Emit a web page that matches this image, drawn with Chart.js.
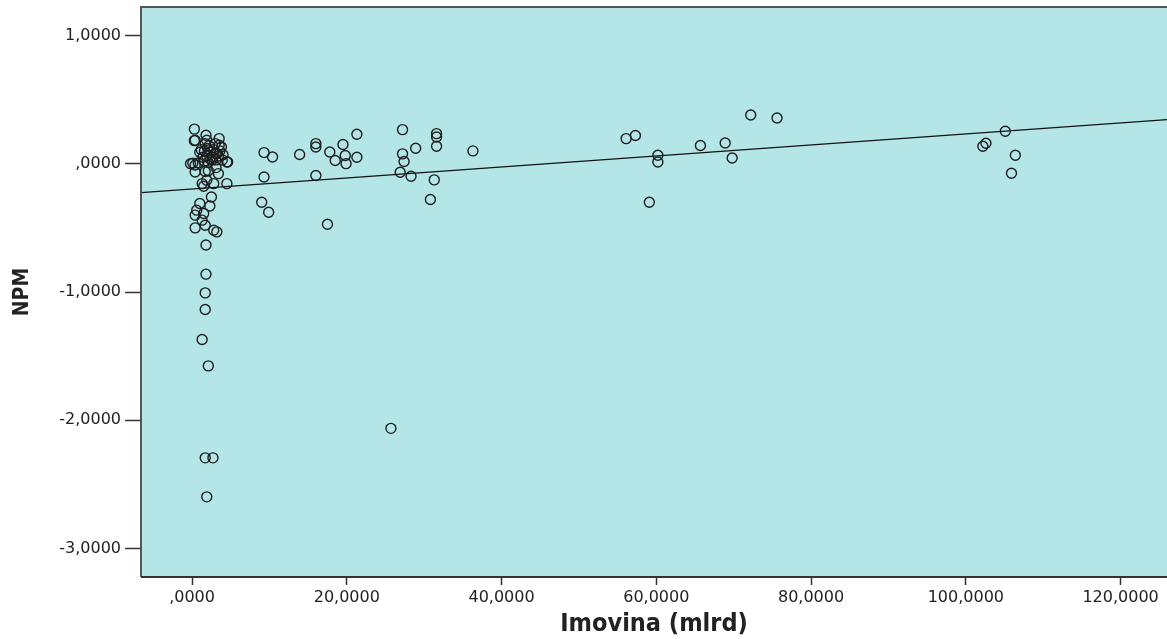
<!DOCTYPE html>
<html>
<head>
<meta charset="utf-8">
<script src="https://cdn.jsdelivr.net/npm/chart.js@4"></script>
<style>
  html, body { margin: 0; padding: 0; background: #fff; }
  canvas { display: block; }
</style>
</head>
<body>
<canvas id="chart" width="1167" height="639"></canvas>
<script>
// Imovina (mlrd) vs NPM
const imovina = [
  // dense cluster near zero
  0.3, 0.3, 1.8, 3.5, 3.5, 1.7, 0.4, 1.9, 3.0, 3.8,
  -0.2, 0.1, 0.4, 0.8, 4.5, 4.6, 1.2, 1.6, 2.0, 2.4, 2.8, 3.2, 3.6, 4.0,
  1.4, 1.9, 2.3, 2.7, 3.1, 3.4, 1.6, 2.1, 2.6, 3.0, 3.9, 1.0, 2.2,
  0.4, 2.1, 3.4, 1.9, 1.3, 2.8, 4.5, 1.5, 2.5, 1.0, 2.3, 0.6, 0.4, 1.5,
  1.3, 0.4, 1.7, 2.8, 3.2, 1.7, 3.1,
  // long tail
  1.8, 1.8, 1.7, 1.7, 1.3, 2.1, 1.7, 2.7, 1.9,
  // 9 - 37
  9.3, 10.4, 9.3, 9.0, 9.9, 13.9, 16.0, 16.0, 16.0, 17.5, 19.5, 17.8, 18.5,
  19.8, 19.9, 21.3, 21.3, 27.2, 27.2, 27.4, 28.9, 26.9, 28.3, 31.6, 31.6,
  31.6, 31.3, 30.8, 36.3, 25.7,
  // 56 - 76
  56.1, 57.3, 60.2, 60.2, 59.1, 65.7, 68.9, 69.8, 72.2, 75.6,
  // ~ 100+
  105.1, 102.2, 102.6, 106.4, 105.9
];
const npm = [
  0.270, 0.180, 0.222, 0.196, 0.144, 0.157, 0.183, 0.183, 0.157, 0.130,
  0.000, 0.005, -0.010, 0.006, 0.014, 0.014, 0.110, 0.100, 0.120, 0.090, 0.110, 0.080, 0.100, 0.070,
  0.050, 0.060, 0.040, 0.050, 0.030, 0.060, 0.020, 0.010, 0.030, 0.080, 0.030, 0.090, 0.140,
  -0.064, -0.055, -0.077, -0.129, -0.155, -0.155, -0.155, -0.175, -0.259, -0.310, -0.330, -0.362, -0.401, -0.388,
  -0.440, -0.500, -0.479, -0.518, -0.531, -0.060, -0.030,
  -0.634, -0.861, -1.007, -1.136, -1.370, -1.576, -2.293, -2.293, -2.597,
  0.087, 0.053, -0.103, -0.300, -0.378, 0.072, 0.157, 0.131, -0.092, -0.472, 0.150, 0.092, 0.025,
  0.064, 0.001, 0.051, 0.230, 0.266, 0.077, 0.017, 0.121, -0.066, -0.097, 0.235, 0.209,
  0.136, -0.126, -0.279, 0.100, -2.063,
  0.196, 0.220, 0.066, 0.014, -0.300, 0.142, 0.162, 0.045, 0.380, 0.357,
  0.253, 0.136, 0.160, 0.066, -0.074
];

// fitted line, endpoints
const fitX = [-6.6, 126];
const fitY = [-0.226, 0.344];

const xTicks = [0, 20, 40, 60, 80, 100, 120];
const yTicks = [-3, -2, -1, 0, 1];

function fmt(v) {
  let s = Math.abs(v).toFixed(4).replace('.', ',');
  if (s.startsWith('0,')) s = s.slice(1);
  return (v < 0 ? '-' : '') + s;
}

const plotBg = {
  id: 'plotBg',
  beforeDraw(chart) {
    const a = chart.chartArea, c = chart.ctx;
    c.save();
    c.fillStyle = '#b4e6e8';
    c.fillRect(a.left, a.top, a.right - a.left, a.bottom - a.top);
    c.restore();
  },
  afterDraw(chart) {
    const a = chart.chartArea, c = chart.ctx;
    c.save();
    c.strokeStyle = '#555';
    c.lineWidth = 2;
    c.beginPath();
    c.moveTo(a.left, a.bottom);
    c.lineTo(a.left, a.top);
    c.lineTo(a.right, a.top);
    c.stroke();
    c.strokeStyle = '#333';
    c.beginPath();
    c.moveTo(a.left, a.bottom);
    c.lineTo(a.right, a.bottom);
    c.stroke();
    c.restore();
  }
};

new Chart(document.getElementById('chart'), {
  type: 'scatter',
  data: {
    datasets: [
      {
        label: 'NPM',
        data: imovina.map((x, i) => ({ x: x, y: npm[i] })),
        pointStyle: 'circle',
        pointRadius: 5,
        pointHoverRadius: 5,
        pointBorderWidth: 1.4,
        pointBorderColor: '#1e1e1e',
        pointBackgroundColor: 'rgba(0,0,0,0)'
      },
      {
        label: 'fit',
        type: 'line',
        data: fitX.map((x, i) => ({ x: x, y: fitY[i] })),
        borderColor: '#111',
        borderWidth: 1.2,
        pointRadius: 0,
        fill: false
      }
    ]
  },
  options: {
    responsive: false,
    animation: false,
    layout: { autoPadding: false, padding: { top: 7, right: 0, left: 0, bottom: 0 } },
    plugins: { legend: { display: false }, tooltip: { enabled: false } },
    scales: {
      x: {
        type: 'linear',
        min: -6.6,
        max: 126,
        afterBuildTicks(s) { s.ticks = xTicks.map(v => ({ value: v })); },
        afterFit(s) { s.height = 62; s.paddingLeft = 0; s.paddingRight = 0; },
        grid: { drawOnChartArea: false, drawTicks: true, tickLength: 8, color: '#333', tickWidth: 1.5 },
        border: { display: false },
        ticks: {
          callback: v => fmt(v),
          font: { family: 'DejaVu Sans', size: 16 },
          color: '#222',
          padding: 3,
          maxRotation: 0
        },
        title: {
          display: true,
          text: 'Imovina (mlrd)',
          font: { family: 'DejaVu Sans Condensed, DejaVu Sans', size: 25, weight: 'bold' },
          color: '#222',
          padding: { top: 6, bottom: 0 }
        }
      },
      y: {
        type: 'linear',
        min: -3.222,
        max: 1.222,
        afterBuildTicks(s) { s.ticks = yTicks.map(v => ({ value: v })); },
        afterFit(s) { s.width = 141; s.paddingTop = 0; s.paddingBottom = 0; },
        grid: { drawOnChartArea: false, drawTicks: true, tickLength: 16, color: '#333', tickWidth: 1.5 },
        border: { display: false },
        ticks: {
          callback: v => fmt(v),
          font: { family: 'DejaVu Sans', size: 16 },
          color: '#222',
          padding: 4
        },
        title: {
          display: true,
          text: 'NPM',
          font: { family: 'DejaVu Sans Condensed, DejaVu Sans', size: 21, weight: 'bold' },
          color: '#222',
          padding: { top: 10, bottom: 0 }
        }
      }
    }
  },
  plugins: [plotBg]
});
</script>
</body>
</html>
